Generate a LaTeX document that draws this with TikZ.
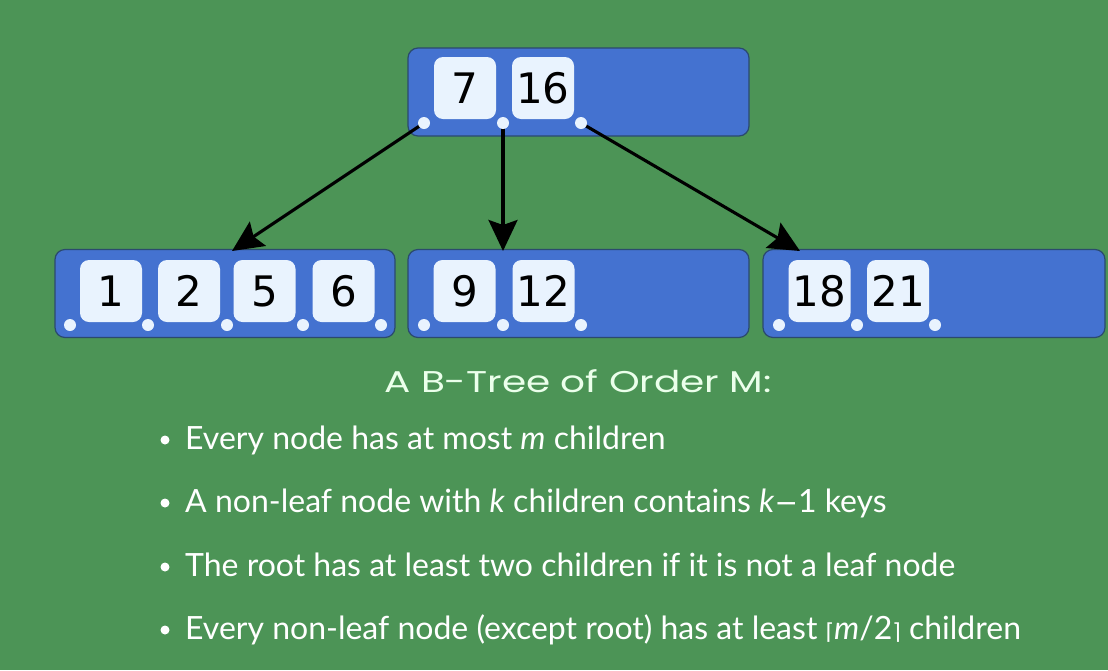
\documentclass[tikz,border=0pt]{standalone}
\usepackage{fontspec}
\setmainfont{Lato}
\newfontfamily\keyfont{DejaVu Sans}
\newfontfamily\titlefont{Poppins}
\usetikzlibrary{arrows.meta}
\pgfdeclarelayer{fg}
\pgfsetlayers{main,fg}
\definecolor{bg}{HTML}{4C9456}
\definecolor{nodeblue}{HTML}{4472D0}
\definecolor{nodeedge}{HTML}{2B4A6E}
\definecolor{keyfill}{HTML}{E9F3FE}
\tikzset{
  btnode/.style={draw=nodeedge, line width=1.2pt, fill=nodeblue, rounded corners=10pt, minimum width=341pt, minimum height=88pt, inner sep=0pt},
  keybox/.style={fill=keyfill, rounded corners=9pt, minimum width=62pt, minimum height=62pt, inner sep=0pt, font=\keyfont\fontsize{42}{42}\selectfont},
  ptr/.style={circle, fill=keyfill, minimum size=12pt, inner sep=0pt},
  arr/.style={line width=3.1pt, black, -{Stealth[length=31pt,width=29pt,inset=5pt]}},
  bullettext/.style={anchor=base west, text=white, font=\fontsize{32}{32}\selectfont, inner sep=0pt},
  bulletdot/.style={circle, fill=white, minimum size=9pt, inner sep=0pt}
}
\begin{document}
\begin{tikzpicture}[x=1pt,y=-1pt]
\fill[bg] (0,0) rectangle (1108,670);
\useasboundingbox (0,0) rectangle (1108,670);
% root
\node[btnode] (root) at (578.5,92) {};
\node[keybox] (k7) at (465,88) {7};
\node[keybox] (k16) at (543,88) {16};
\begin{pgfonlayer}{fg}
\node[ptr] (r0) at (424,123) {};
\node[ptr] (r1) at (503,123) {};
\node[ptr] (r2) at (581,123) {};
\end{pgfonlayer}
% leaf 1
\node[btnode, minimum width=340pt] (l1) at (225,293.5) {};
\node[keybox] (k1) at (111,291) {1};
\node[keybox] (k2) at (189,291) {2};
\node[keybox] (k5) at (264.5,291) {5};
\node[keybox] (k6) at (343.5,291) {6};
\node[ptr] (a0) at (70,325) {};
\node[ptr] (a1) at (148,325) {};
\node[ptr] (a2) at (227,325) {};
\node[ptr] (a3) at (303,325) {};
\node[ptr] (a4) at (381,325) {};
% leaf 2
\node[btnode] (l2) at (578.5,293.5) {};
\node[keybox] (k9) at (464.5,291) {9};
\node[keybox] (k12) at (543.5,291) {12};
\node[ptr] (b0) at (424,325) {};
\node[ptr] (b1) at (503,325) {};
\node[ptr] (b2) at (581,325) {};
% leaf 3
\node[btnode, minimum width=342pt] (l3) at (934,293.5) {};
\node[keybox] (k18) at (819.5,291) {18};
\node[keybox] (k21) at (898,291) {21};
\node[ptr] (c0) at (779,325) {};
\node[ptr] (c1) at (857,325) {};
\node[ptr] (c2) at (935,325) {};
% arrows
\coordinate (t1) at (232,251);
\coordinate (t2) at (503,251);
\coordinate (t3) at (800,251);
\draw[arr] (r0.center) -- (t1);
\draw[arr] (r1.center) -- (t2);
\draw[arr] (r2.center) -- (t3);
% title
\node[text=white!92!green, font=\titlefont\fontsize{30}{30}\selectfont, inner sep=0pt] (title) at (578,381) {\scalebox{1.3}[1]{A B-Tree of Order M:}};
% bullets
\node[bulletdot] (d1) at (165,440) {};
\node[bullettext] (s1) at (185,449) {Every node has at most \textit{m} children};
\node[bulletdot] (d2) at (165,503) {};
\node[bullettext] (s2) at (185,512) {A non-leaf node with \textit{k} children contains \textit{k}{\keyfont\fontsize{28}{28}\selectfont −}1 keys};
\node[bulletdot] (d3) at (165,567) {};
\node[bullettext] (s3) at (185,576) {The root has at least two children if it is not a leaf node};
\node[bulletdot] (d4) at (165,630) {};
\node[bullettext] (s4) at (185,639) {Every non-leaf node (except root) has at least {\keyfont\fontsize{22}{22}\selectfont ⌈}\textit{m}/2{\keyfont\fontsize{22}{22}\selectfont ⌉} children};
\end{tikzpicture}
\end{document}
